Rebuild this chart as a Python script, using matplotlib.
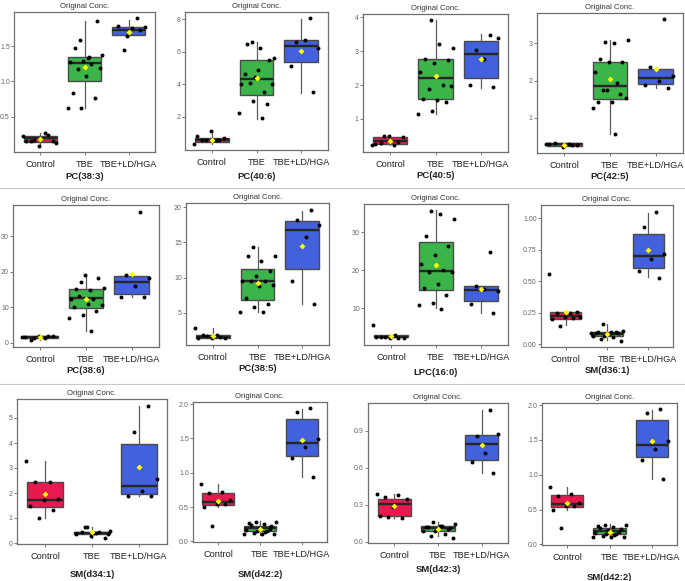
import numpy as np
import matplotlib
matplotlib.use("Agg")
import matplotlib.pyplot as plt
from matplotlib.lines import Line2D

plt.rcParams['font.family'] = ['Liberation Sans', 'DejaVu Sans']

W, H = 685, 581
groups = ["Control", "TBE", "TBE+LD/HGA"]
colors = ["#E8194F", "#3BB44A", "#4361DD"]
title_text = "Original Conc."

# ---- data: per panel, per group: dots, and box stats (q1, med, q3, whislo, whishi, mean)
p1_name = "PC(38:3)"
p1_dots = [[0.23, 0.27, 0.16, 0.16, 0.09, 0.16, 0.24, 0.18, 0.13],
           [1.59, 1.38, 1.33, 1.47, 1.86, 1.29, 1.28, 1.25, 1.18, 1.19, 1.07, 0.83, 0.77, 0.63, 0.63, 1.35],
           [1.89, 1.45, 1.77, 1.76, 1.78, 1.72, 1.64]]
p1_box = [[0.15, 0.206, 0.229, 0.10, 0.27, 0.19],
          [1.00, 1.26, 1.35, 0.63, 1.85, 1.20],
          [1.65, 1.73, 1.77, 1.64, 1.87, 1.70]]
p1_ylim = (0.004, 1.98)
p1_ticks = [0.5, 1.0, 1.5]

p2_name = "PC(40:6)"
p2_dots = [[0.35, 0.6, 0.55, 0.7, 1.1, 0.8, 0.55, 0.6],
           [6.6, 5.6, 6.2, 6.45, 5.5, 4.45, 4.0, 3.55, 4.1, 4.0, 4.9, 4.65, 2.8, 2.95, 2.25, 1.9],
           [8.05, 6.6, 6.25, 6.7, 5.1, 3.5]]
p2_box = [[0.47, 0.57, 0.71, 0.35, 1.1, 0.6],
          [3.33, 4.29, 5.51, 1.84, 6.6, 4.35],
          [5.37, 6.37, 6.69, 3.47, 8.0, 6.03]]
p2_ylim = (-0.04, 8.43)
p2_ticks = [2, 4, 6, 8]

p3_name = "PC(40:5)"
p3_dots = [[0.23, 0.22, 0.3, 0.45, 0.5, 0.25, 0.32, 0.48],
           [3.93, 3.1, 3.2, 2.78, 2.75, 2.65, 2.4, 2.0, 1.87, 1.97, 1.55, 1.6, 1.5, 1.23, 1.13],
           [3.49, 3.05, 3.38, 2.78, 2.0, 1.93]]
p3_box = [[0.25, 0.34, 0.47, 0.22, 0.5, 0.35],
          [1.58, 2.2, 2.76, 1.14, 3.91, 2.26],
          [2.2, 2.92, 3.29, 1.9, 3.5, 2.76]]
p3_ylim = (0.02, 4.1)
p3_ticks = [1, 2, 3, 4]

p4_name = "PC(42:5)"
p4_dots = [[0.3, 0.28, 0.32, 0.27, 0.22, 0.3, 0.26],
           [3.05, 3.1, 3.0, 2.57, 2.5, 2.5, 2.24, 1.93, 1.75, 1.52, 1.42, 1.43, 1.65, 1.75, 1.27, 0.57],
           [3.65, 2.37, 2.13, 2.0, 1.87, 1.8]]
p4_box = [[0.25, 0.28, 0.31, 0.22, 0.32, 0.27],
          [1.51, 1.86, 2.51, 0.57, 3.1, 2.03],
          [1.9, 2.07, 2.31, 1.8, 2.37, 2.31]]
p4_ylim = (0.05, 3.82)
p4_ticks = [1, 2, 3]

p5_name = "PC(38:6)"
p5_dots = [[1.6, 1.3, 0.7, 2.0, 1.9, 1.5, 1.8, 1.4],
           [17, 15.5, 14.8, 15.2, 18.1, 19.2, 12.4, 12.4, 13.3, 10.5, 11, 10.1, 8.9, 7.9, 6.9, 3.2],
           [36.7, 19.2, 18.2, 16, 12.8, 12.8]]
p5_box = [[1.2, 1.5, 1.8, 0.7, 2.0, 1.5],
          [9.8, 12.6, 15.0, 3.4, 19.0, 12.3],
          [13.6, 17.2, 18.9, 12.8, 19.3, 19.5]]
p5_ylim = (-1.2, 38.8)
p5_ticks = [0, 10, 20, 30]

p6_name = "PC(38:5)"
p6_dots = [[2.9, 1.8, 1.8, 1.4, 1.4, 1.5, 1.6, 1.7],
           [14.3, 13.1, 12.3, 13.1, 11.0, 10.3, 9.5, 9.6, 9.5, 8.9, 8.8, 7.1, 6.3, 5.8, 5.2, 5.2],
           [19.6, 18.2, 17.5, 15.8, 9.6, 6.2]]
p6_box = [[1.4, 1.6, 1.9, 1.3, 2.9, 1.75],
          [6.9, 9.5, 11.3, 5.2, 14.3, 9.3],
          [11.2, 16.7, 18.1, 6.2, 19.5, 14.5]]
p6_ylim = (0.45, 20.6)
p6_ticks = [5, 10, 15, 20]

p7_name = "LPC(16:0)"
p7_dots = [[5.6, 3.0, 2.4, 2.2, 2.3, 2.5, 2.2, 2.6],
           [35.6, 33.5, 34.8, 29, 26.5, 24, 21.6, 20, 19.5, 19.6, 16.5, 15.3, 13.6, 11.3, 10.9, 9.8],
           [24.8, 16.0, 14.5, 15, 11.2, 8.7]]
p7_box = [[2.4, 2.6, 2.9, 2.2, 3.0, 2.8],
          [14.8, 19.7, 27.3, 10.0, 35.8, 21.3],
          [11.9, 14.8, 15.8, 8.7, 16.0, 15.0]]
p7_ylim = (0.4, 37.4)
p7_ticks = [10, 20, 30]

p8_name = "SM(d36:1)"
p8_dots = [[0.56, 0.25, 0.25, 0.26, 0.22, 0.2, 0.21, 0.15, 0.22],
           [0.16, 0.11, 0.1, 0.1, 0.09, 0.08, 0.07, 0.06, 0.04, 0.03, 0.08, 0.09, 0.1, 0.07, 0.09],
           [1.05, 0.93, 0.72, 0.68, 0.58, 0.53]]
p8_box = [[0.205, 0.225, 0.255, 0.155, 0.255, 0.26],
          [0.07, 0.085, 0.10, 0.035, 0.16, 0.085],
          [0.61, 0.70, 0.88, 0.535, 1.045, 0.75]]
p8_ylim = (-0.02, 1.106)
p8_ticks = [0.0, 0.25, 0.5, 0.75, 1.0]

p9_name = "SM(d34:1)"
p9_dots = [[3.3, 2.43, 2.43, 1.75, 1.72, 1.5, 1.33, 1.0],
           [0.65, 0.48, 0.42, 0.45, 0.2, 0.3, 0.37, 0.45, 0.65, 0.35, 0.42],
           [5.5, 4.43, 2.55, 2.07, 1.9, 1.87]]
p9_box = [[1.46, 1.74, 2.43, 1.0, 3.28, 1.95],
          [0.35, 0.40, 0.45, 0.2, 0.65, 0.45],
          [1.97, 2.3, 3.96, 1.87, 5.5, 3.06]]
p9_ylim = (-0.04, 5.76)
p9_ticks = [0, 1, 2, 3, 4, 5]

p10_name = "SM(d42:2)"
p10_dots = [[0.83, 0.72, 0.70, 0.6, 0.55, 0.5, 0.55, 0.23],
            [0.28, 0.28, 0.25, 0.24, 0.22, 0.2, 0.16, 0.15, 0.12, 0.1, 0.1, 0.26, 0.18, 0.15, 0.1, 0.13],
            [1.94, 1.88, 1.49, 1.37, 1.21, 0.94]]
p10_box = [[0.53, 0.58, 0.71, 0.5, 0.83, 0.59],
           [0.15, 0.19, 0.23, 0.09, 0.29, 0.18],
           [1.25, 1.43, 1.78, 0.94, 1.93, 1.48]]
p10_ylim = (-0.01, 2.03)
p10_ticks = [0.0, 0.5, 1.0, 1.5, 2.0]

p11_name = "SM(d42:3)"
p11_dots = [[0.39, 0.38, 0.36, 0.35, 0.28, 0.21, 0.19, 0.2],
            [0.16, 0.14, 0.13, 0.12, 0.11, 0.1, 0.09, 0.06, 0.05, 0.03, 0.13, 0.12, 0.1, 0.09],
            [1.07, 0.86, 0.87, 0.72, 0.65, 0.56]]
p11_box = [[0.21, 0.31, 0.35, 0.19, 0.39, 0.29],
           [0.09, 0.11, 0.13, 0.05, 0.16, 0.10],
           [0.66, 0.79, 0.865, 0.555, 1.07, 0.785]]
p11_ylim = (-0.01, 1.125)
p11_ticks = [0.0, 0.3, 0.6, 0.9]

p12_name = "SM(d42:2)"
p12_dots = p10_dots
p12_box = p10_box
p12_ylim = p10_ylim
p12_ticks = p10_ticks

panels = [
    (p1_name, p1_dots, p1_box, p1_ylim, p1_ticks, "%.1f"),
    (p2_name, p2_dots, p2_box, p2_ylim, p2_ticks, "%g"),
    (p3_name, p3_dots, p3_box, p3_ylim, p3_ticks, "%g"),
    (p4_name, p4_dots, p4_box, p4_ylim, p4_ticks, "%g"),
    (p5_name, p5_dots, p5_box, p5_ylim, p5_ticks, "%g"),
    (p6_name, p6_dots, p6_box, p6_ylim, p6_ticks, "%g"),
    (p7_name, p7_dots, p7_box, p7_ylim, p7_ticks, "%g"),
    (p8_name, p8_dots, p8_box, p8_ylim, p8_ticks, "%.2f"),
    (p9_name, p9_dots, p9_box, p9_ylim, p9_ticks, "%g"),
    (p10_name, p10_dots, p10_box, p10_ylim, p10_ticks, "%.1f"),
    (p11_name, p11_dots, p11_box, p11_ylim, p11_ticks, "%.1f"),
    (p12_name, p12_dots, p12_box, p12_ylim, p12_ticks, "%.1f"),
]

# axes rectangles in pixels: x0, y0(top), x1, y1(bottom), xlabel pad
rects = [
    (14, 12, 155, 152, 2), (185, 12, 328, 150, 3), (363, 14, 508, 152, 1), (537, 13, 683, 153, 1),
    (13, 205, 159, 347, 1), (186, 203, 329, 345, 1), (364, 204, 508, 345, 4), (541, 205, 673, 347, 1),
    (17, 399, 167, 544, 6), (193, 402, 327, 542, 8), (368, 403, 508, 543, 3), (542, 403, 677, 545, 8),
]

fig = plt.figure(figsize=(W / 100, H / 100), dpi=100)
fig.patch.set_facecolor("white")

# light separators
for yy in (188, 384):
    fig.add_artist(Line2D([0, 1], [1 - yy / H, 1 - yy / H], color="#c8c8c8", lw=0.8))

for (name, dots, boxes, ylim, ticks, fmt), (x0, y0, x1, y1, lp) in zip(panels, rects):
    ax = fig.add_axes([x0 / W, 1 - y1 / H, (x1 - x0) / W, (y1 - y0) / H])
    stats = []
    for g, b in zip(groups, boxes):
        stats.append(dict(q1=b[0], med=b[1], q3=b[2], whislo=b[3], whishi=b[4], fliers=[], label=g))
    bp = ax.bxp(stats, positions=[1, 2, 3], widths=0.76, patch_artist=True, showcaps=False,
                showfliers=False,
                boxprops=dict(edgecolor="#4a4a4a", linewidth=1.0),
                medianprops=dict(color="#262626", linewidth=1.7),
                whiskerprops=dict(color="#5a5a5a", linewidth=0.9))
    for patch, c in zip(bp["boxes"], colors):
        patch.set_facecolor(c)
    for gi, d in enumerate(dots):
        n = len(d)
        offs = np.array([((k * 0.618034 + 0.37 * gi) % 1.0) - 0.5 for k in range(n)]) * 0.8
        ax.scatter(np.full(n, gi + 1) + offs, d, s=8, color="black", zorder=4, linewidths=0)
    means = [b[5] for b in boxes]
    ax.scatter([1, 2, 3], means, marker="D", s=9, color="#FFFF00", zorder=5, linewidths=0)
    ax.set_xlim(0.4, 3.6)
    ax.set_ylim(*ylim)
    ax.set_yticks(ticks)
    ax.set_yticklabels([fmt % t for t in ticks])
    ax.set_xticks([1, 2, 3])
    ax.set_xticklabels(groups, fontsize=6.6, color="#222222")
    ax.tick_params(axis="y", labelsize=5, labelcolor="#666666", length=2, width=0.6, color="#666666", pad=1)
    ax.tick_params(axis="x", length=2, width=0.6, color="#666666", pad=4)
    for s in ax.spines.values():
        s.set_color("#6e6e6e")
        s.set_linewidth(0.9)
    ax.set_title(title_text, fontsize=5.6, color="#333333", pad=3)
    ax.set_xlabel(name, fontsize=6.8, fontweight="bold", color="#222222", labelpad=lp)

fig.savefig("out.png", dpi=100, facecolor="white")
